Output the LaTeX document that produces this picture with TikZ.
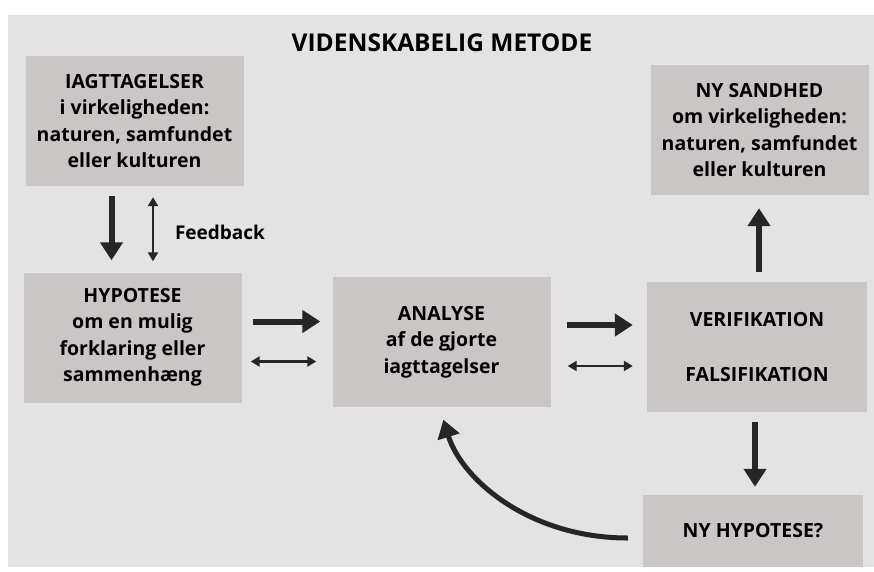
\documentclass[tikz,border=0pt]{standalone}
\usepackage{fontspec}
\setmainfont{Open Sans}
\usetikzlibrary{
    arrows.meta,
    positioning,
    calc
}
\definecolor{Mback}{HTML}{E3E3E3}
\definecolor{Mbox}{HTML}{CBC6C6}
\definecolor{Mink}{HTML}{262626}
\tikzset{
    mbox/.style={
        rectangle, fill=Mbox, text=black, minimum width=218pt, minimum height=130pt,
        align=center, font=\fontsize{19.5}{26.5}\selectfont\bfseries, inner sep=0pt
    },
    mbig/.style={-{Triangle[length=18pt, width=22pt]}, line width=6pt, Mink},
    mtwo/.style={{Triangle[length=9pt, width=10pt]}-{Triangle[length=9pt, width=10pt]}, line width=2.2pt, Mink},
}

\begin{document}
\begin{tikzpicture}[x=1pt, y=-1pt]

    \useasboundingbox (0,0) rectangle (874,571);
    \fill [Mback] (8,15) rectangle (874,567);

    \node [font=\fontsize{24.5}{28}\selectfont\bfseries]
        (title) at (442,43) {VIDENSKABELIG METODE};

    \node [mbox] (obs) at (134.5,121)
        {IAGTTAGELSER \\ i virkeligheden: \\ naturen, samfundet \\ eller kulturen};
    \node [mbox] (hyp) at (132.5,337.5)
        {HYPOTESE \\ om en mulig \\ forklaring eller \\ sammenhæng};
    \node [mbox] (ana) at (441.5,342)
        {ANALYSE \\ af de gjorte \\ iagttagelser};
    \node [mbox, minimum width=220pt] (ver) at (757,347)
        {VERIFIKATION \\[28pt] FALSIFIKATION};
    \node [mbox] (sand) at (759.5,130)
        {NY SANDHED \\ om virkeligheden: \\ naturen, samfundet \\ eller kulturen};
    \node [mbox, minimum width=220pt, minimum height=72pt] (nyhyp) at (753,531)
        {NY HYPOTESE?};

    \node [font=\fontsize{19}{24}\selectfont\bfseries] (fb) at (220,232) {Feedback};

    \draw [mbig, shorten <=10pt, shorten >=12pt]
        ([xshift=-23pt]obs.south) -- ([xshift=-23pt]obs.south |- hyp.north);
    \draw [mtwo, shorten <=11pt, shorten >=11pt]
        ([xshift=18.5pt]obs.south) -- ([xshift=18.5pt]obs.south |- hyp.north);

    \draw [mbig, shorten <=11pt, shorten >=12pt]
        ([yshift=16pt]hyp.east) -- ([yshift=16pt]hyp.east -| ana.west);
    \draw [mtwo, shorten <=9pt, shorten >=16pt]
        ([yshift=-24pt]hyp.east) -- ([yshift=-24pt]hyp.east -| ana.west);

    \draw [mbig, shorten <=16pt, shorten >=14pt]
        ([yshift=17pt]ana.east) -- ([yshift=17pt]ana.east -| ver.west);
    \draw [mtwo, shorten <=17pt, shorten >=14pt]
        ([yshift=-24pt]ana.east) -- ([yshift=-24pt]ana.east -| ver.west);

    \draw [mbig, shorten <=10pt, shorten >=13pt]
        ([xshift=2pt]ver.north) -- ([xshift=2pt]ver.north |- sand.south);
    \draw [mbig, shorten <=10pt, shorten >=8pt]
        ([xshift=-2pt]ver.south) -- ([xshift=-2pt]ver.south |- nyhyp.north);

    % tilbage til analysen
    \draw [mbig, line width=5pt, shorten <=15pt, shorten >=13pt]
        ([yshift=-7pt]nyhyp.west) .. controls (530,538) and (462,480) .. ([xshift=-2pt]ana.south);

\end{tikzpicture}
\end{document}
